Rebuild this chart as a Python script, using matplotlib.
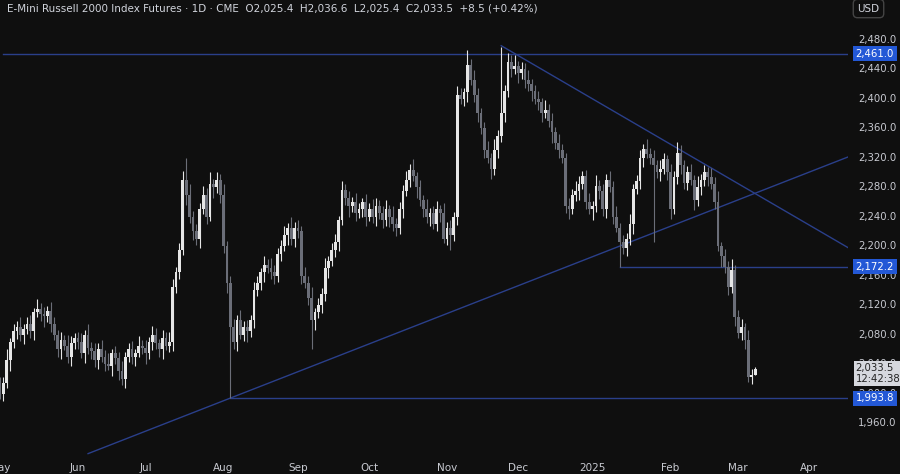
import matplotlib
matplotlib.use("Agg")
import matplotlib.pyplot as plt
import numpy as np
import pandas as pd

# ---- data ----
closes_apr = [2040, 2010]
closes_may = [2000, 2014, 2045, 2070, 2085, 2090, 2080, 2088, 2095, 2085, 2110, 2115, 2108, 2105,
              2112, 2095, 2080, 2060, 2072, 2065, 2050, 2068, 2075]
closes_jun = [2070, 2055, 2080, 2062, 2058, 2045, 2060, 2050, 2040, 2038, 2055, 2048, 2030, 2020,
              2050, 2060, 2050, 2055, 2065, 2062]
closes_jul = [2055, 2070, 2080, 2068, 2060, 2075, 2065, 2070, 2145, 2165, 2195, 2290, 2270, 2240,
              2220, 2210, 2250, 2270, 2240, 2285, 2280, 2290, 2270]
closes_aug = [2200, 2150, 2090, 2070, 2100, 2080, 2090, 2085, 2100, 2140, 2150, 2165, 2175, 2170,
              2165, 2160, 2190, 2200, 2215, 2225, 2210, 2225]
closes_sep = [2220, 2160, 2150, 2130, 2100, 2110, 2120, 2135, 2170, 2180, 2195, 2205, 2235, 2276,
              2265, 2255, 2260, 2245, 2250, 2260, 2240]
closes_oct = [2250, 2240, 2255, 2245, 2235, 2250, 2240, 2230, 2225, 2250, 2275, 2290, 2303, 2295,
              2280, 2262, 2250, 2240, 2245, 2230, 2250, 2245, 2210]
closes_nov = [2225, 2215, 2240, 2405, 2400, 2409, 2446, 2425, 2405, 2380, 2360, 2330, 2320, 2305,
              2330, 2350, 2380, 2410, 2450, 2440, 2445]
closes_dec = [2435, 2440, 2425, 2420, 2410, 2400, 2395, 2380, 2385, 2370, 2355, 2340, 2330, 2320,
              2255, 2250, 2270, 2275, 2285, 2295, 2260, 2250]
closes_jan = [2255, 2282, 2275, 2250, 2290, 2280, 2240, 2225, 2205, 2198, 2210, 2230, 2278, 2288,
              2320, 2332, 2325, 2320, 2310, 2300, 2305, 2318, 2300]
closes_feb = [2250, 2294, 2327, 2310, 2286, 2300, 2290, 2263, 2280, 2290, 2300, 2294, 2285, 2260,
              2200, 2186, 2172, 2145, 2168, 2104]
closes_mar = [2082, 2090, 2073, 2022, 2025.4, 2033.5]

wick_up = [10, 8, 12, 9, 15, 6, 10, 8, 14, 7, 9, 11, 6, 13, 8, 10, 7, 12, 9, 6,
           11, 8, 14, 10, 7, 9, 12, 6, 15, 8]
wick_dn = [9, 12, 7, 10, 6, 14, 8, 11, 9, 13, 7, 10, 12, 6, 9, 15, 8, 11, 7, 10,
           13, 6, 9, 12, 8, 10, 7, 14, 9, 11]

# notable extremes
special_lows = {"2024-08-05": 1993.8, "2025-01-13": 2172.2, "2025-03-10": 2025.4,
                "2024-09-06": 2060, "2024-11-04": 2195, "2025-01-27": 2205}
special_highs = {"2024-11-25": 2470, "2024-11-11": 2466, "2024-07-17": 2320,
                 "2025-03-10": 2036.6}

levels = [2461.0, 2172.2, 1993.8]
month_labels = ["May", "Jun", "Jul", "Aug", "Sep", "Oct", "Nov", "Dec", "2025", "Feb", "Mar", "Apr"]
yticks = list(range(1960, 2481, 40))

closes = (closes_apr + closes_may + closes_jun + closes_jul + closes_aug + closes_sep + closes_oct
          + closes_nov + closes_dec + closes_jan + closes_feb + closes_mar)
n = len(closes)
dates = pd.bdate_range(end="2025-03-10", periods=n)
future = pd.bdate_range(start=dates[0], end="2025-04-30")
opens = [closes[0] + 5] + closes[:-1]

# ---- style ----
BG = "#0f0f0f"
UP = "#e6e6e6"
DN = "#6b6e78"
LINE = "#2a3f8a"
BLUE = "#2358d6"
TXT = "#c8cad1"

fig = plt.figure(figsize=(9, 4.74), dpi=100, facecolor=BG)
ax = fig.add_axes([0, 19 / 474, 848 / 900, 455 / 474], facecolor=BG)

idx = np.arange(n)
for i in idx:
    o, c = opens[i], closes[i]
    key = dates[i].strftime("%Y-%m-%d")
    hi = special_highs.get(key, max(o, c) + wick_up[i % len(wick_up)])
    lo = special_lows.get(key, min(o, c) - wick_dn[i % len(wick_dn)])
    col = UP if c >= o else DN
    ax.vlines(i, lo, hi, color=col, lw=0.8, zorder=3)
    ax.bar(i, max(abs(c - o), 1.5), bottom=min(o, c), width=0.82, color=col, zorder=4, linewidth=0)

# horizontal levels
dstr = list(dates.strftime("%Y-%m-%d"))
i_peak = dstr.index("2024-11-25")
i_aug = dstr.index("2024-08-05")
i_jan = dstr.index("2025-01-13")
xmin, xmax = 2.9, 252.4
ax.plot([xmin, xmax], [levels[0], levels[0]], color=LINE, lw=1, zorder=2)
ax.plot([i_jan, xmax], [levels[1], levels[1]], color=LINE, lw=1, zorder=2)
ax.plot([i_aug, xmax], [levels[2], levels[2]], color=LINE, lw=1, zorder=2)

# trend lines (anchored on price points)
rise_slope = (2321 - 1993.8) / (xmax - i_aug)
ax.plot([i_aug - 42, xmax], [1993.8 - 42 * rise_slope, 2321], color=LINE, lw=1, zorder=2)
ax.plot([i_peak, xmax], [2472, 2198], color=LINE, lw=1, zorder=2)

ax.set_xlim(xmin, xmax)
ax.set_ylim(1916.6, 2534)

# month ticks
month_pos, seen = [], set()
for j, d in enumerate(future):
    k = (d.year, d.month)
    if k not in seen:
        seen.add(k)
        month_pos.append(j)
month_pos = month_pos[1:]
ax.set_xticks(month_pos[:len(month_labels)])
ax.set_xticklabels(month_labels[:len(month_pos)], color=TXT, fontsize=7.5)
ax.tick_params(axis="x", length=0, pad=6)
ax.set_yticks([])
for s in ax.spines.values():
    s.set_visible(False)

# right axis labels
ytr = ax.get_yaxis_transform()
for t in yticks:
    ax.text(1.012, t, f"{t:,.1f}", transform=ytr, color=TXT, fontsize=7.3, va="center", ha="left",
            clip_on=False)
for lv in levels:
    ax.text(1.009, lv, f"{lv:,.1f}", transform=ytr, color="white", fontsize=7.3, va="center",
            ha="left", clip_on=False, zorder=10,
            bbox=dict(boxstyle="square,pad=0.25", fc=BLUE, ec="none"))
ax.text(1.009, closes[-1] - 6, f"{closes[-1]:,.1f}\n12:42:38", transform=ytr, color="#222222",
        fontsize=7.3, va="center", ha="left", clip_on=False, zorder=10, linespacing=1.1,
        bbox=dict(boxstyle="square,pad=0.2", fc="#d6d8de", ec="none"))

fig.text(0.008, 0.982, "E-Mini Russell 2000 Index Futures · 1D · CME  O2,025.4  H2,036.6  L2,025.4  "
         "C2,033.5  +8.5 (+0.42%)", color="#d1d4dc", fontsize=7.5, va="center", ha="left")
fig.text(0.965, 0.982, "USD", color="#d1d4dc", fontsize=7.5, va="center", ha="center",
         bbox=dict(boxstyle="round,pad=0.4", fc=BG, ec="#444444"))

fig.savefig("out.png", dpi=100, facecolor=BG)
